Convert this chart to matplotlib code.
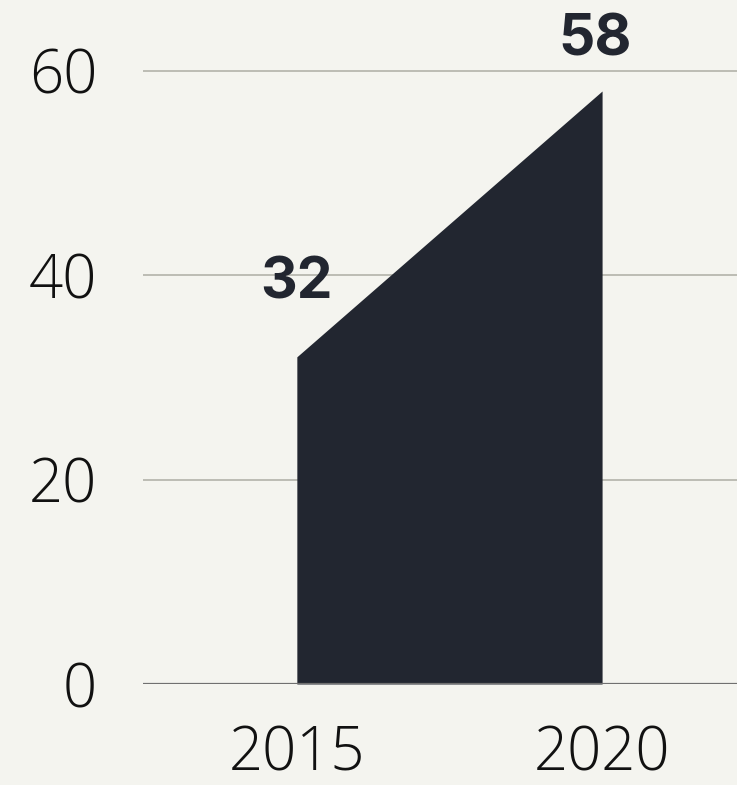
import matplotlib
matplotlib.use("Agg")
import matplotlib.pyplot as plt

years = [2015, 2020]
values = [32, 58]
yticks = [0, 20, 40, 60]
label_offsets_pt = [(0, 33), (-5, 17)]

bg = "#f4f4ef"
fill = "#222630"

fig = plt.figure(figsize=(7.37, 7.85), dpi=100, facecolor=bg)
ax = fig.add_axes([143/737, 101/785, 1 - 143/737, 684/785])
ax.set_facecolor(bg)

ax.fill_between(years, values, 0, color=fill, linewidth=0, zorder=2)

ax.set_xlim(2012.48, 2022.21)
ax.set_ylim(0, 66.9)

for y in yticks:
    if y == 0:
        ax.axhline(y, color="#707070", linewidth=1.6, zorder=3)
    else:
        ax.axhline(y, color="#bcbcb4", linewidth=1.4, zorder=1)

for x, v, off in zip(years, values, label_offsets_pt):
    ax.annotate(str(v), (x, v), xytext=off, textcoords="offset points",
                ha="center", va="bottom", fontsize=41, fontweight="bold",
                family="Inter", color=fill, zorder=4)

ax.set_yticks(yticks)
ax.set_yticklabels([str(t) for t in yticks], family="Open Sans", fontweight="light",
                   fontsize=43, color="#111111")
ax.set_xticks(years)
ax.set_xticklabels([str(y) for y in years], family="Open Sans", fontweight="light",
                   fontsize=43, color="#111111")
ax.tick_params(axis="y", length=0, pad=33)
ax.tick_params(axis="x", length=0, pad=29)
for s in ax.spines.values():
    s.set_visible(False)

fig.savefig("out.png", dpi=100, facecolor=bg)
